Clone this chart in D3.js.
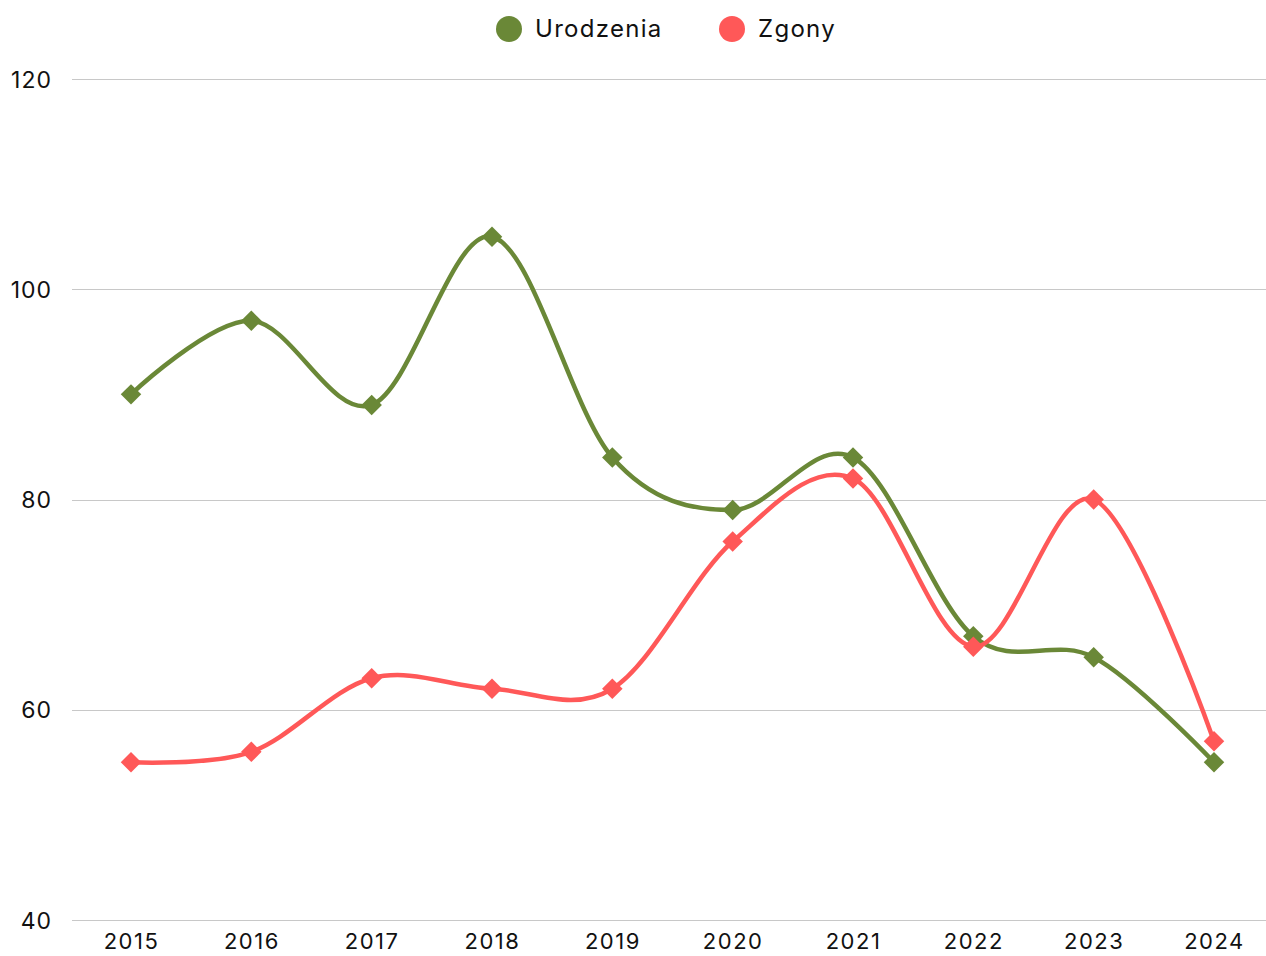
<!DOCTYPE html>
<html>
<head>
<meta charset="utf-8">
<script src="https://cdn.jsdelivr.net/npm/d3@7"></script>
<style>
  body { margin: 0; background: #fff; }
  svg text { font-family: Inter, "DejaVu Sans", sans-serif; fill: #111; }
</style>
</head>
<body>
<div id="chart"></div>
<script>
// dane
const years = ["2015", "2016", "2017", "2018", "2019", "2020", "2021", "2022", "2023", "2024"];
const urodzenia = [90, 97, 89, 105, 84, 79, 84, 67, 65, 55];
const zgony = [55, 56, 63, 62, 62, 76, 82, 66, 80, 57];
const yTicks = [40, 60, 80, 100, 120];
const seriesNames = ["Urodzenia", "Zgony"];
const seriesColors = ["#6a8837", "#ff5858"];

const width = 1266, height = 956;
const svg = d3.select("#chart").append("svg")
    .attr("width", width)
    .attr("height", height);

// skale
const x = d3.scalePoint()
    .domain(years)
    .range([131, 1214]);

const y = d3.scaleLinear()
    .domain([40, 120])
    .range([920, 79]);

// siatka
svg.append("g")
    .selectAll("line")
    .data(yTicks)
    .enter()
    .append("line")
    .attr("x1", 72)
    .attr("x2", width)
    .attr("y1", d => Math.round(y(d)) + 0.5)
    .attr("y2", d => Math.round(y(d)) + 0.5)
    .style("stroke", "#c8c8c8")
    .style("stroke-width", 1);

// oś Y
const yAxis = svg.append("g")
    .attr("transform", "translate(52,0)")
    .call(d3.axisLeft(y).tickValues(yTicks).tickSize(0).tickPadding(0));
yAxis.select(".domain").remove();
yAxis.selectAll("text")
    .style("font-size", "23px")
    .style("letter-spacing", "1px")
    .attr("dy", "0.35em");

// oś X
const xAxis = svg.append("g")
    .attr("transform", "translate(0,941)")
    .call(d3.axisBottom(x).tickSize(0).tickPadding(0));
xAxis.select(".domain").remove();
xAxis.selectAll("text")
    .style("font-size", "22px")
    .style("letter-spacing", "1.5px")
    .attr("dy", "0.35em");

// linie
const line = d3.line()
    .x((d, i) => x(years[i]))
    .y(d => y(d))
    .curve(d3.curveCardinal.tension(0));

const diamond = d3.symbol().type(d3.symbolSquare).size(210);

[urodzenia, zgony].forEach((values, s) => {
    const g = svg.append("g").attr("class", "series");
    g.append("path")
        .datum(values)
        .attr("d", line)
        .style("fill", "none")
        .style("stroke", seriesColors[s])
        .style("stroke-width", 4.5)
        .style("stroke-linejoin", "round");
    g.selectAll(".marker")
        .data(values)
        .enter()
        .append("path")
        .attr("class", "marker")
        .attr("d", diamond)
        .attr("transform", (d, i) => `translate(${x(years[i])},${y(d)}) rotate(45)`)
        .style("fill", seriesColors[s]);
});

// legenda
const legendX = [509, 732];
const legend = svg.append("g");
seriesNames.forEach((name, i) => {
    legend.append("circle")
        .attr("cx", legendX[i])
        .attr("cy", 29)
        .attr("r", 13)
        .style("fill", seriesColors[i]);
    legend.append("text")
        .attr("x", legendX[i] + 26)
        .attr("y", 29)
        .attr("dy", "0.35em")
        .style("font-size", "24px")
        .style("letter-spacing", "1.3px")
        .text(name);
});
</script>
</body>
</html>
